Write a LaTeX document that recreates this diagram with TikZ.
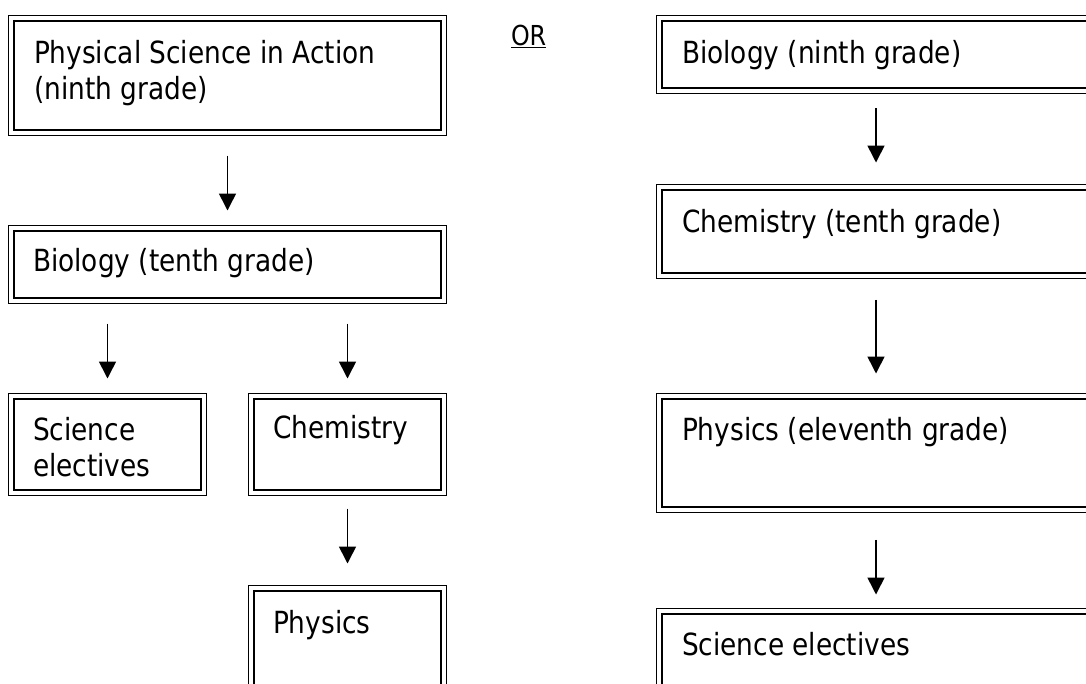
\documentclass[tikz,border=0pt]{standalone}
\usepackage{fontspec}
\setmainfont{DejaVu Sans}[FakeStretch=0.865]
\usetikzlibrary{arrows.meta,calc}
\tikzset{
  boxst/.style={draw=black, line width=1.8pt, rectangle, inner sep=0pt, outer sep=0pt},
  innerst/.style={draw=black, line width=2.4pt},
  txt/.style={inner sep=0pt, outer sep=0pt, anchor=base west, align=left, font=\fontsize{30.5}{36}\selectfont},
  arr/.style={line width=1.6pt, -{Triangle[width=17pt,length=17pt]}}
}
\newcommand{\mkbox}[5]{% name, x1, y1, x2, y2 (pixels, y down)
  \node[boxst, minimum width={(#4-#2)*1pt}, minimum height={(#5-#3)*1pt}]
    (#1) at ({(#2+#4)/2*1pt},{-(#3+#5)/2*1pt}) {};
  \draw[innerst] ($(#1.north west)+(5.5pt,-5.5pt)$) rectangle ($(#1.south east)+(-5.5pt,5.5pt)$);
}
\begin{document}
\begin{tikzpicture}
\useasboundingbox (0,0) rectangle (1086pt,-683pt);
\clip (0,0) rectangle (1086pt,-683pt);
% left column
\mkbox{b1}{8.5}{15.5}{446.5}{135.5}
\mkbox{b2}{8.5}{225.5}{446.5}{303.5}
\mkbox{se}{8.5}{393.5}{206.5}{495.5}
\mkbox{ch}{248.5}{393.5}{446.5}{495.5}
\mkbox{ph}{248.5}{585.5}{446.5}{720}
% right column
\mkbox{r1}{656.5}{15.5}{1120}{93.5}
\mkbox{r2}{656.5}{184.5}{1120}{278.5}
\mkbox{r3}{656.5}{393.5}{1120}{512.5}
\mkbox{r4}{656.5}{608.5}{1120}{720}
% texts
\node[txt] (t1) at (34pt,-99pt) {Physical Science in Action\\(ninth grade)};
\node[txt] (t2) at (33pt,-271pt) {Biology (tenth grade)};
\node[txt] (t3) at (33pt,-476pt) {Science\\electives};
\node[txt] (t4) at (273pt,-438pt) {Chemistry};
\node[txt] (t5) at (273pt,-633pt) {Physics};
\node[txt] (t6) at (682pt,-63pt) {Biology (ninth grade)};
\node[txt] (t7) at (682pt,-232pt) {Chemistry (tenth grade)};
\node[txt] (t8) at (682pt,-440pt) {Physics (eleventh grade)};
\node[txt] (t9) at (682pt,-655pt) {Science electives};
\node[inner sep=0pt, outer sep=0pt, anchor=base west, font=\fontsize{27.5}{32}\selectfont] (or) at (511pt,-45pt) {\underline{OR}};
% arrows
\draw[arr] ([yshift=-20pt]b1.south) -- ([yshift=15pt]b2.north);
\draw[arr] ([yshift=-20pt]b2.south -| se.north) -- ([yshift=15pt]se.north);
\draw[arr] ([yshift=-20pt]b2.south -| ch.north) -- ([yshift=15pt]ch.north);
\draw[arr] ([yshift=-13pt]ch.south) -- ([yshift=22pt]ph.north);
\draw[arr] ([shift={(219.5pt,-14.5pt)}]r1.south west) -- ([shift={(219.5pt,22pt)}]r2.north west);
\draw[arr] ([shift={(219.5pt,-21pt)}]r2.south west) -- ([shift={(219.5pt,20pt)}]r3.north west);
\draw[arr] ([shift={(219.5pt,-27pt)}]r3.south west) -- ([shift={(219.5pt,14pt)}]r4.north west);
\end{tikzpicture}
\end{document}
